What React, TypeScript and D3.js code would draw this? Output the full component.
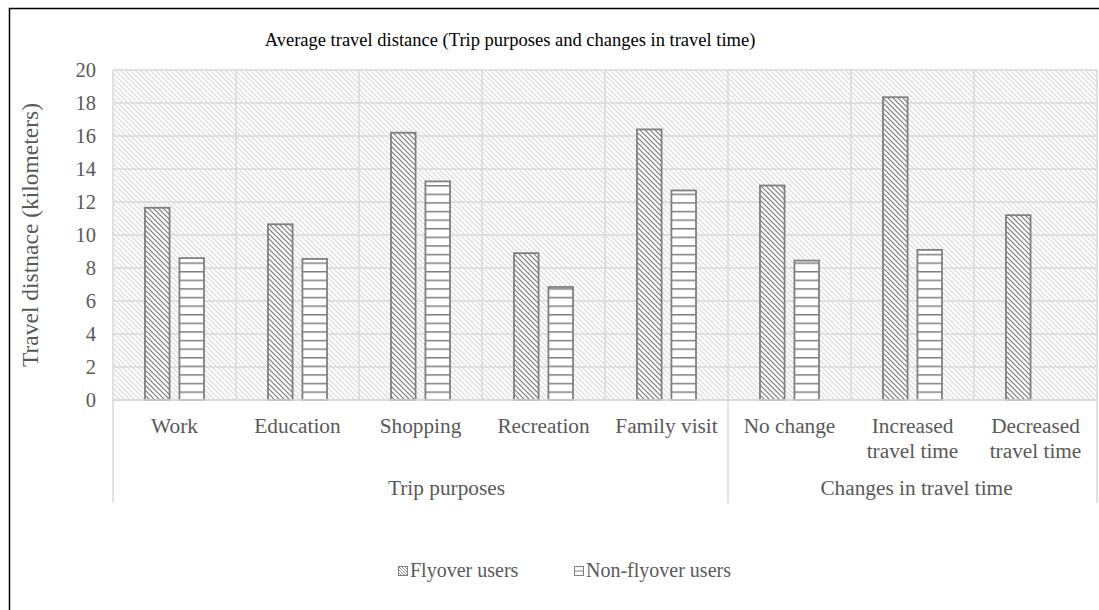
import React from "react";
import * as d3 from "d3";

// Average travel distance (km) per category, for the two user groups
const categories = [
  "Work",
  "Education",
  "Shopping",
  "Recreation",
  "Family visit",
  "No change",
  "Increased travel time",
  "Decreased travel time",
];
const categoryLines = [
  ["Work"],
  ["Education"],
  ["Shopping"],
  ["Recreation"],
  ["Family visit"],
  ["No change"],
  ["Increased", "travel time"],
  ["Decreased", "travel time"],
];
const groupNames = ["Trip purposes", "Changes in travel time"];
const groupSizes = [5, 3];
const seriesNames = ["Flyover users", "Non-flyover users"];
const flyover = [11.65, 10.65, 16.2, 8.9, 16.4, 13.0, 18.35, 11.2];
const nonFlyover: (number | null)[] = [8.6, 8.55, 13.25, 6.85, 12.7, 8.45, 9.1, null];
const yTicks = [0, 2, 4, 6, 8, 10, 12, 14, 16, 18, 20];

const W = 1099;
const H = 610;
const FONT = "'Liberation Serif', 'Times New Roman', serif";
const TEXT = "#595959";
const GRID = "#d9d9d9";
const BAR_EDGE = "#7f7f7f";

export default function App() {
  const left = 113;
  const right = 1097;
  const top = 70;
  const bottom = 400;

  const x = d3.scaleBand<string>().domain(categories).range([left, right]).padding(0);
  const bw = x.bandwidth();
  const inner = d3
    .scaleBand<string>()
    .domain(seriesNames)
    .range([bw * 0.26, bw * 0.74])
    .paddingInner(0.2857)
    .paddingOuter(0);
  const y = d3.scaleLinear().domain([0, 20]).range([bottom, top]);

  // group boundaries along the category axis
  const groupEdges: number[] = [0];
  groupSizes.forEach((n, i) => groupEdges.push(groupEdges[i] + n));
  // small horizontal nudge of each group label
  const groupLabelShift = [26, 4];

  const series = [
    { name: seriesNames[0], values: flyover as (number | null)[], fill: "url(#barDiag)" },
    { name: seriesNames[1], values: nonFlyover, fill: "url(#barHoriz)" },
  ];

  return (
    <svg
      width={W}
      height={H}
      style={{ position: "absolute", left: 0, top: 0, background: "#fff" }}
      fontFamily={FONT}
    >
      <defs>
        <pattern id="bgDiag" patternUnits="userSpaceOnUse" width={5} height={5}>
          <rect width={5} height={5} fill="#fff" />
          <path d="M-1,-1 L6,6 M-1,4 L1,6 M4,-1 L6,1" stroke={GRID} strokeWidth={1.1} />
        </pattern>
        <pattern id="barDiag" patternUnits="userSpaceOnUse" width={5} height={5}>
          <rect width={5} height={5} fill="#fff" />
          <path d="M-1,-1 L6,6 M-1,4 L1,6 M4,-1 L6,1" stroke="#7a7a7a" strokeWidth={1.2} />
        </pattern>
        <pattern id="barHoriz" patternUnits="userSpaceOnUse" width={8} height={8.6} y={bottom}>
          <rect width={8} height={8.6} fill="#fff" />
          <line x1={0} x2={8} y1={0.5} y2={0.5} stroke={BAR_EDGE} strokeWidth={2} />
        </pattern>
        <pattern id="legDiag" patternUnits="userSpaceOnUse" width={3} height={3}>
          <rect width={3} height={3} fill="#fff" />
          <path d="M-1,-1 L4,4 M-1,2 L1,4 M2,-1 L4,1" stroke="#7a7a7a" strokeWidth={0.8} />
        </pattern>
      </defs>

      {/* outer frame */}
      <rect x={9.5} y={8.5} width={W + 20} height={H + 20} fill="none" stroke="#000" strokeWidth={1.5} />

      {/* title */}
      <text x={510} y={46} textAnchor="middle" fontSize={18.5} fill="#000">
        Average travel distance (Trip purposes and changes in travel time)
      </text>

      {/* plot background */}
      <rect x={left} y={top} width={right - left} height={bottom - top} fill="url(#bgDiag)" />

      {/* horizontal gridlines */}
      {yTicks.map((t) => (
        <line key={"h" + t} x1={left} x2={right} y1={y(t)} y2={y(t)} stroke={GRID} strokeWidth={1.5} />
      ))}
      {/* vertical category gridlines */}
      {categories.map((c) => (
        <line key={"v" + c} x1={x(c)!} x2={x(c)!} y1={top} y2={bottom} stroke={GRID} strokeWidth={1.5} />
      ))}
      <line x1={right} x2={right} y1={top} y2={bottom} stroke={GRID} strokeWidth={1.5} />

      {/* bars */}
      {series.map((s) =>
        categories.map((c, i) => {
          const v = s.values[i];
          if (v == null) return null;
          const bx = x(c)! + inner(s.name)!;
          return (
            <rect
              key={s.name + c}
              x={bx}
              y={y(v)}
              width={inner.bandwidth()}
              height={y(0) - y(v)}
              fill={s.fill}
              stroke={BAR_EDGE}
              strokeWidth={1.8}
            />
          );
        })
      )}

      {/* y tick labels */}
      {yTicks.map((t) => (
        <text key={"t" + t} x={96} y={y(t) + 7} textAnchor="end" fontSize={20.5} fill={TEXT}>
          {t}
        </text>
      ))}

      {/* y axis title */}
      <text
        transform={`translate(38,${(top + bottom) / 2}) rotate(-90)`}
        textAnchor="middle"
        fontSize={23.5}
        fill={TEXT}
      >
        Travel distnace (kilometers)
      </text>

      {/* category axis: baseline and group separators */}
      <line x1={left} x2={right} y1={bottom} y2={bottom} stroke={GRID} strokeWidth={1.5} />
      {groupEdges.map((e, i) => {
        const gx = e === categories.length ? right : x(categories[e])!;
        return <line key={"g" + i} x1={gx} x2={gx} y1={bottom} y2={503} stroke={GRID} strokeWidth={1.5} />;
      })}

      {/* category labels */}
      {categories.map((c, i) => (
        <text key={"c" + c} x={x(c)! + bw / 2} textAnchor="middle" fontSize={21.3} fill={TEXT}>
          {categoryLines[i].map((ln, j) => (
            <tspan key={j} x={x(c)! + bw / 2} y={433 + j * 25}>
              {ln}
            </tspan>
          ))}
        </text>
      ))}

      {/* group labels */}
      {groupNames.map((g, i) => {
        const x0 = x(categories[groupEdges[i]])!;
        const last = categories[groupEdges[i + 1] - 1];
        const x1 = x(last)! + bw;
        return (
          <text
            key={"gl" + g}
            x={(x0 + x1) / 2 + groupLabelShift[i]}
            y={495}
            textAnchor="middle"
            fontSize={21.3}
            fill={TEXT}
          >
            {g}
          </text>
        );
      })}

      {/* legend */}
      <g fontSize={20} fill={TEXT}>
        <rect x={398.5} y={566.5} width={9} height={9} fill="url(#legDiag)" stroke={BAR_EDGE} strokeWidth={1} />
        <text x={410} y={577}>{seriesNames[0]}</text>
        <rect x={574.5} y={566.5} width={9} height={9} fill="#fff" stroke={BAR_EDGE} strokeWidth={1} />
        <line x1={575} x2={583} y1={571} y2={571} stroke={BAR_EDGE} strokeWidth={1} />
        <text x={586} y={577}>{seriesNames[1]}</text>
      </g>
    </svg>
  );
}
